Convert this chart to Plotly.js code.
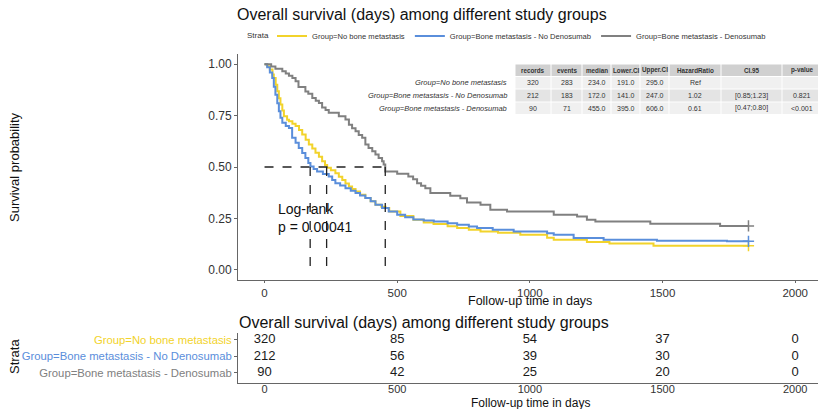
<!DOCTYPE html>
<html>
<head>
<meta charset="utf-8">
<script src="https://cdn.plot.ly/plotly-3.0.1.min.js"></script>
<style>html,body{margin:0;padding:0;background:#fff;}#chart{width:818px;height:409px;}</style>
</head>
<body>
<div id="chart"></div>
<script>
// ---------- data ----------
const groupNames = ["Group=No bone metastasis", "Group=Bone metastasis - No Denosumab", "Group=Bone metastasis - Denosumab"];
const groupColors = ["#F2D32B", "#5A8EDB", "#808080"];

const noBoneDays = [0,10,20,30,35,42,48,54,60,67,73,85,92,105,117,130,142,155,167,180,192,205,217,228,236,250,267,280,293,305,318,330,343,360,380,400,418,440,456,470,512,561,600,637,690,726,770,814,880,964,1065,1090,1215,1300,1466,1824];
const noBoneSurv = [1.0,0.99,0.975,0.95,0.933,0.9,0.869,0.835,0.804,0.775,0.747,0.73,0.723,0.71,0.699,0.68,0.658,0.633,0.609,0.59,0.569,0.55,0.528,0.51,0.496,0.484,0.47,0.452,0.437,0.42,0.405,0.393,0.381,0.365,0.349,0.333,0.316,0.306,0.3,0.283,0.262,0.243,0.23,0.222,0.212,0.203,0.195,0.186,0.18,0.17,0.156,0.146,0.135,0.128,0.117,0.117];

const boneNoDenoDays = [0,10,20,29,35,41,48,54,60,67,80,92,104,117,129,142,154,165,173,185,198,220,242,255,267,285,305,325,343,360,380,400,418,443,468,500,530,561,600,638,690,726,770,801,860,939,1065,1090,1165,1278,1479,1743,1824];
const boneNoDenoSurv = [1.0,0.985,0.96,0.933,0.89,0.852,0.81,0.771,0.74,0.715,0.7,0.69,0.642,0.618,0.593,0.568,0.544,0.52,0.502,0.49,0.478,0.466,0.454,0.437,0.421,0.41,0.397,0.385,0.373,0.361,0.349,0.333,0.316,0.3,0.283,0.267,0.255,0.245,0.24,0.235,0.226,0.219,0.21,0.203,0.195,0.186,0.178,0.17,0.154,0.146,0.141,0.138,0.138];

const boneDenoDays = [0,25,41,67,80,92,105,117,128,154,165,180,193,205,217,230,242,280,305,318,330,343,355,368,380,392,406,418,430,443,449,455,500,542,560,575,590,606,625,700,738,763,814,851,914,1090,1178,1215,1247,1454,1717,1824];
const boneDenoSurv = [1.0,0.989,0.978,0.966,0.955,0.944,0.933,0.917,0.889,0.867,0.856,0.836,0.822,0.811,0.789,0.778,0.764,0.747,0.731,0.706,0.689,0.674,0.656,0.642,0.609,0.592,0.577,0.561,0.544,0.528,0.512,0.478,0.467,0.454,0.44,0.421,0.409,0.397,0.373,0.36,0.348,0.327,0.316,0.292,0.284,0.267,0.259,0.243,0.235,0.224,0.213,0.213];

const medianDays = [234, 172, 455];

// summary table
const tableHeader = ["records","events","median","Lower.CI","Upper.CI","HazardRatio","CI.95","p-value"];
const records = ["320","212","90"];
const events = ["283","183","71"];
const medians = ["234.0","172.0","455.0"];
const lowerCI = ["191.0","141.0","395.0"];
const upperCI = ["295.0","247.0","606.0"];
const hazardRatio = ["Ref","1.02","0.61"];
const ci95 = ["","[0.85;1.23]","[0.47;0.80]"];
const pValue = ["","0.821","<0.001"];

// risk table
const riskTimes = [0, 500, 1000, 1500, 2000];
const riskNoBone = [320, 85, 54, 37, 0];
const riskBoneNoDeno = [212, 56, 39, 30, 0];
const riskBoneDeno = [90, 42, 25, 20, 0];

const xTicks = [0, 500, 1000, 1500, 2000];
const yTicks = [0, 0.25, 0.5, 0.75, 1.0];
const titleText = "Overall survival (days) among different study groups";
const xTitle = "Follow-up time in days";
const yTitle = "Survival probability";
const legendTitle = "Strata";
const logRankText = "Log-rank<br>p = 0.00041";

// ---------- layout helpers ----------
const W = 818, H = 409, ML = 238;
const FONT = "Liberation Sans, Arial, Helvetica, sans-serif";
const px2x = px => (px - ML) / (W - ML);
const py2y = py => (H - py) / H;

const curves = [
  [noBoneDays, noBoneSurv],
  [boneNoDenoDays, boneNoDenoSurv],
  [boneDenoDays, boneDenoSurv]
];

const traces = [];
curves.forEach((c, i) => {
  traces.push({
    type: "scatter", mode: "lines", x: c[0], y: c[1],
    name: groupNames[i], line: {shape: "hv", color: groupColors[i], width: 2},
    xaxis: "x", yaxis: "y", hoverinfo: "x+y+name"
  });
});
// censor marks at end of follow-up
curves.forEach((c, i) => {
  traces.push({
    type: "scatter", mode: "markers",
    x: [c[0][c[0].length - 1]], y: [c[1][c[1].length - 1]],
    marker: {symbol: "cross-thin", size: 8, line: {color: groupColors[i], width: 1.5}},
    showlegend: false, xaxis: "x", yaxis: "y", hoverinfo: "skip"
  });
});
// median dashed lines
const mx = [0, Math.max(...medianDays), null];
const my = [0.5, 0.5, null];
medianDays.forEach(m => { mx.push(m, m, null); my.push(0.5, 0, null); });
traces.push({
  type: "scatter", mode: "lines", x: mx, y: my,
  line: {color: "#222", width: 1.3, dash: "dash"},
  showlegend: false, hoverinfo: "skip", xaxis: "x", yaxis: "y"
});
// risk table numbers
[riskBoneDeno, riskBoneNoDeno, riskNoBone].forEach((r, k) => {
  traces.push({
    type: "scatter", mode: "text", x: riskTimes, y: riskTimes.map(() => k),
    text: r.map(String), textposition: "middle center",
    textfont: {family: FONT, size: 13, color: "#1a1a1a"},
    showlegend: false, hoverinfo: "skip", xaxis: "x2", yaxis: "y2"
  });
});

// summary table (shapes + annotations)
const shapes = [];
const annotations = [];
const colBounds = [515, 551, 582, 611, 640, 669, 721, 782, 822];
const rowBounds = [64, 76.5, 89, 102, 114.5];
const rowFills = ["#d0d0d0", "#f0f0f0", "#e4e4e4", "#f0f0f0"];
const tableCols = [records, events, medians, lowerCI, upperCI, hazardRatio, ci95, pValue];
for (let r = 0; r < 4; r++) {
  for (let c = 0; c < 8; c++) {
    shapes.push({type: "rect", xref: "paper", yref: "paper", layer: "below",
      x0: px2x(colBounds[c] + 0.5), x1: px2x(Math.min(colBounds[c + 1] - 0.5, 818)),
      y0: py2y(rowBounds[r] + 0.5), y1: py2y(rowBounds[r + 1] - 0.5),
      fillcolor: rowFills[r], line: {width: 0}});
    const cx = px2x((colBounds[c] + colBounds[c + 1]) / 2);
    const cy = py2y((rowBounds[r] + rowBounds[r + 1]) / 2);
    const txt = r === 0 ? "<b>" + tableHeader[c] + "</b>" : tableCols[c][r - 1];
    if (txt !== "") {
      annotations.push({xref: "paper", yref: "paper", x: cx, y: cy, text: txt, showarrow: false,
        xanchor: "center", yanchor: "middle",
        font: {family: FONT, size: r === 0 ? 6.3 : 7, color: "#333"}});
    }
  }
}
groupNames.forEach((g, i) => {
  annotations.push({xref: "paper", yref: "paper", x: px2x(509),
    y: py2y((rowBounds[i + 1] + rowBounds[i + 2]) / 2), text: "<i>" + g + "</i>",
    showarrow: false, xanchor: "right", yanchor: "middle",
    font: {family: FONT, size: 7.5, color: "#333"}});
});

// titles and texts
annotations.push({xref: "paper", yref: "paper", x: px2x(245), y: py2y(36), text: legendTitle,
  showarrow: false, xanchor: "left", yanchor: "middle", font: {family: FONT, size: 8, color: "#333"}});
annotations.push({xref: "x", yref: "y", x: 42, y: 0.25, text: logRankText, showarrow: false,
  xanchor: "left", yanchor: "middle", align: "left", font: {family: FONT, size: 14, color: "#111"}});
annotations.push({xref: "paper", yref: "paper", x: px2x(14), y: py2y(167), text: yTitle, textangle: -90,
  showarrow: false, xanchor: "center", yanchor: "middle", font: {family: FONT, size: 13, color: "#111"}});
annotations.push({xref: "paper", yref: "paper", x: px2x(14), y: py2y(357), text: "Strata", textangle: -90,
  showarrow: false, xanchor: "center", yanchor: "middle", font: {family: FONT, size: 13, color: "#111"}});
annotations.push({xref: "paper", yref: "paper", x: px2x(237), y: py2y(322), text: titleText,
  showarrow: false, xanchor: "left", yanchor: "middle", font: {family: FONT, size: 16, color: "#111"}});
annotations.push({xref: "paper", yref: "paper", x: px2x(530), y: py2y(300.5), text: xTitle,
  showarrow: false, xanchor: "center", yanchor: "middle", font: {family: FONT, size: 12.5, color: "#111"}});
annotations.push({xref: "paper", yref: "paper", x: px2x(530), y: py2y(402.5), text: xTitle,
  showarrow: false, xanchor: "center", yanchor: "middle", font: {family: FONT, size: 12, color: "#111"}});

const axisCommon = {
  showgrid: false, zeroline: false, showline: true, linecolor: "#666", linewidth: 1,
  ticks: "outside", ticklen: 3, tickcolor: "#666", automargin: false,
  tickfont: {family: FONT, size: 12, color: "#333"}
};

const layout = {
  width: W, height: H,
  margin: {l: ML, r: 0, t: 0, b: 0, autoexpand: false},
  paper_bgcolor: "#fff", plot_bgcolor: "#fff",
  font: {family: FONT},
  title: {text: titleText, xref: "container", yref: "container", x: 237 / W, xanchor: "left",
    y: 1 - 14 / H, yanchor: "middle", font: {family: FONT, size: 16, color: "#111"}},
  showlegend: true,
  legend: {orientation: "h", xref: "container", yref: "container", x: 272 / W, xanchor: "left",
    y: 1 - 36 / H, yanchor: "middle", font: {family: FONT, size: 7.6, color: "#333"},
    itemwidth: 30, bgcolor: "rgba(0,0,0,0)"},
  xaxis: Object.assign({}, axisCommon, {domain: [0, 1], range: [-100, 2086], anchor: "y",
    tickvals: xTicks, ticklen: 2, ticklabelstandoff: -2.5, tickfont: {family: FONT, size: 11.5, color: "#333"}}),
  yaxis: Object.assign({}, axisCommon, {domain: [py2y(280), py2y(54)], range: [-0.05, 1.05], anchor: "x",
    tickvals: yTicks, tickformat: ".2f"}),
  xaxis2: Object.assign({}, axisCommon, {domain: [0, 1], range: [-100, 2086], anchor: "y2",
    tickvals: xTicks, ticks: "", ticklabelstandoff: -4, tickfont: {family: FONT, size: 11, color: "#333"}}),
  yaxis2: Object.assign({}, axisCommon, {domain: [py2y(382.5), py2y(333)], range: [-0.58, 2.42], anchor: "x2",
    tickvals: [0, 1, 2], ticks: "outside",
    ticktext: [2, 1, 0].map(i => '<span style="color:' + groupColors[i] + '">' + groupNames[i] + '</span>'),
    tickfont: {family: FONT, size: 11.3, color: "#333"}}),
  shapes: shapes,
  annotations: annotations
};

Plotly.newPlot("chart", traces, layout, {displayModeBar: false, staticPlot: true});
</script>
</body>
</html>
